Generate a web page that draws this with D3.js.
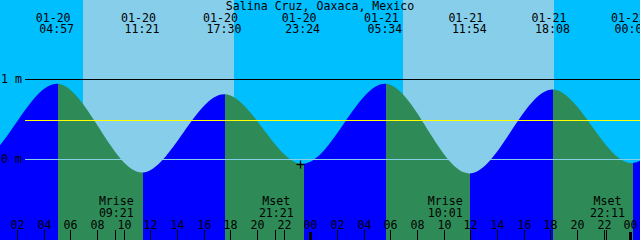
<!DOCTYPE html>
<html>
    <head>
        <title>Salina Cruz tides</title>
        <script src="https://d3js.org/d3.v7.min.js"></script>
        <style>
            body { margin: 0; padding: 0; background: white; }
            svg { display: block; }
            text { font-family: "DejaVu Sans Mono", monospace; font-size: 11.6px; fill: black; }
        </style>
    </head>
    <body>
        <div id="chart"></div>

        <script>
            // Tide extremes (the first two and last two are off the edges so the curve runs to the border)
            let tideTimes  = ["01-19 16:45", "01-19 22:50", "01-20 04:57", "01-20 11:21", "01-20 17:30", "01-20 23:24",
                              "01-21 05:34", "01-21 11:54", "01-21 18:08", "01-22 00:06", "01-22 06:15", "01-22 12:25"];
            let tideLevels = [0.85, -0.05, 0.94, -0.17, 0.81, -0.06, 0.94, -0.18, 0.87, -0.05, 0.95, -0.18];
            let tideDates  = ["01-19", "01-19", "01-20", "01-20", "01-20", "01-20",
                              "01-21", "01-21", "01-21", "01-22", "01-22", "01-22"];
            let tideClock  = ["16:45", "22:50", "04:57", "11:21", "17:30", "23:24",
                              "05:34", "11:54", "18:08", "00:06", "06:15", "12:25"];

            // Sun and moon
            let sunrise    = ["01-20 06:55", "01-21 06:55"];
            let sunset     = ["01-20 18:15", "01-21 18:15"];
            let moonNames  = ["Mrise", "Mset", "Mrise", "Mset"];
            let moonTimes  = ["01-20 09:21", "01-20 21:21", "01-21 10:01", "01-21 22:11"];
            let moonClock  = ["09:21", "21:21", "10:01", "22:11"];

            // Reference levels
            let levelMarks  = [1, 0];
            let levelLabels = ["1 m", "0 m"];
            let meanLevel   = 0.485;

            // "now" cross
            let nowTime  = "01-20 23:12";
            let nowLevel = -0.065;

            let title = "Salina Cruz, Oaxaca, Mexico";
            let span  = ["01-20 00:42", "01-22 00:42"];

            let W = 640, H = 240;
            let parse = d3.utcParse("%m-%d %H:%M");

            let x = d3.scaleUtc().domain(span.map(parse)).range([0, W]);
            let y = d3.scaleLinear().domain([0, 1]).range([159, 79]);

            let svg = d3.select("#chart").append("svg")
                        .attr("width", W).attr("height", H);

            //
            // background: night everywhere, day bands on top
            //
            svg.append("rect").attr("x", 0).attr("y", 0)
               .attr("width", W).attr("height", H)
               .attr("fill", "#00bfff");

            svg.selectAll("rect.day").data(d3.zip(sunrise, sunset)).join("rect")
               .attr("class", "day")
               .attr("x", d => Math.round(x(parse(d[0]))))
               .attr("y", 0)
               .attr("width", d => Math.round(x(parse(d[1]))) - Math.round(x(parse(d[0]))))
               .attr("height", H)
               .attr("fill", "#87ceeb")
               .attr("shape-rendering", "crispEdges");

            //
            // water: one area, clipped into rising (blue) and falling (green) pieces
            //
            let tide = tideTimes.map((t, i) => ({t: parse(t), v: tideLevels[i]}));

            let area = d3.area()
                         .x(d => x(d.t))
                         .y0(H)
                         .y1(d => y(d.v))
                         .curve(d3.curveMonotoneX);

            let defs = svg.append("defs");
            for (let i = 0; i < tide.length - 1; i++) {
                let x0 = Math.round(x(tide[i].t)) + 1;
                let x1 = Math.round(x(tide[i + 1].t)) + 1;
                defs.append("clipPath").attr("id", "seg" + i)
                    .append("rect")
                    .attr("x", x0).attr("y", 0)
                    .attr("width", x1 - x0).attr("height", H);

                let rising = tide[i + 1].v > tide[i].v;
                svg.append("path")
                   .datum(tide)
                   .attr("d", area)
                   .attr("clip-path", "url(#seg" + i + ")")
                   .attr("fill", rising ? "#0000ff" : "#2e8b57");
            }

            //
            // level lines
            //
            let lineStart = 25;
            svg.selectAll("line.level").data(levelMarks).join("line")
               .attr("class", "level")
               .attr("x1", lineStart).attr("x2", W)
               .attr("y1", d => Math.floor(y(d)) + 0.5)
               .attr("y2", d => Math.floor(y(d)) + 0.5)
               .attr("stroke", d => d === 0 ? "#87ceeb" : "black")
               .attr("stroke-width", 1);

            svg.append("line")
               .attr("x1", lineStart).attr("x2", W)
               .attr("y1", Math.floor(y(meanLevel)) + 0.5)
               .attr("y2", Math.floor(y(meanLevel)) + 0.5)
               .attr("stroke", "#ffff00")
               .attr("stroke-width", 1);

            svg.selectAll("text.level").data(levelMarks).join("text")
               .attr("class", "level")
               .attr("x", 1)
               .attr("y", d => Math.floor(y(d)) + 4)
               .text((d, i) => levelLabels[i]);

            //
            // title and tide event labels along the top
            //
            svg.append("text")
               .attr("x", W / 2).attr("y", 10)
               .attr("text-anchor", "middle")
               .text(title);

            // only the extremes that fall inside the window get a label
            let shown = d3.range(tide.length).filter(i => x(tide[i].t) >= 0 && x(tide[i].t) <= W);

            svg.selectAll("text.tdate").data(shown).join("text")
               .attr("class", "tdate")
               .attr("x", i => x(tide[i].t) - 3.5)
               .attr("y", 22)
               .attr("text-anchor", "middle")
               .text(i => tideDates[i]);

            svg.selectAll("text.ttime").data(shown).join("text")
               .attr("class", "ttime")
               .attr("x", i => x(tide[i].t))
               .attr("y", 33)
               .attr("text-anchor", "middle")
               .text(i => tideClock[i]);

            //
            // moon rise / set labels
            //
            let moon = moonTimes.map((t, i) => ({t: parse(t), name: moonNames[i], clock: moonClock[i]}));

            svg.selectAll("text.mname").data(moon).join("text")
               .attr("class", "mname")
               .attr("x", d => x(d.t) + 1)
               .attr("y", 205)
               .attr("text-anchor", "middle")
               .text(d => d.name);

            svg.selectAll("text.mtime").data(moon).join("text")
               .attr("class", "mtime")
               .attr("x", d => x(d.t) + 1)
               .attr("y", 217)
               .attr("text-anchor", "middle")
               .text(d => d.clock);

            //
            // hour axis along the bottom
            //
            let hours = x.ticks(d3.utcHour.every(2));
            let fmtHour = d3.utcFormat("%H");

            svg.selectAll("text.hour").data(hours).join("text")
               .attr("class", "hour")
               .attr("x", d => Math.floor(x(d)) + 0.5)
               .attr("y", 229)
               .attr("text-anchor", "middle")
               .text(d => fmtHour(d));

            svg.selectAll("line.hour").data(hours.filter(d => d.getUTCHours() !== 0)).join("line")
               .attr("class", "hour")
               .attr("x1", d => Math.floor(x(d)) + 0.5)
               .attr("x2", d => Math.floor(x(d)) + 0.5)
               .attr("y1", 230).attr("y2", H)
               .attr("stroke", "black");

            svg.selectAll("rect.midnight").data(hours.filter(d => d.getUTCHours() === 0)).join("rect")
               .attr("class", "midnight")
               .attr("x", d => Math.floor(x(d)) - 1)
               .attr("y", 232)
               .attr("width", 3).attr("height", H - 232)
               .attr("fill", "black")
               .attr("shape-rendering", "crispEdges");

            svg.selectAll("line.moon").data(moon).join("line")
               .attr("class", "moon")
               .attr("x1", d => Math.round(x(d.t)) + 0.5)
               .attr("x2", d => Math.round(x(d.t)) + 0.5)
               .attr("y1", 230).attr("y2", H)
               .attr("stroke", "black");

            //
            // cross marking now
            //
            let nx = Math.round(x(parse(nowTime))) + 0.5;
            let ny = Math.round(y(nowLevel)) + 0.5;
            let cross = svg.append("g").attr("stroke", "black").attr("stroke-width", 1.3);
            cross.append("line").attr("x1", nx - 4).attr("x2", nx + 4).attr("y1", ny).attr("y2", ny);
            cross.append("line").attr("x1", nx).attr("x2", nx).attr("y1", ny - 4).attr("y2", ny + 4);
        </script>
    </body>
</html>
